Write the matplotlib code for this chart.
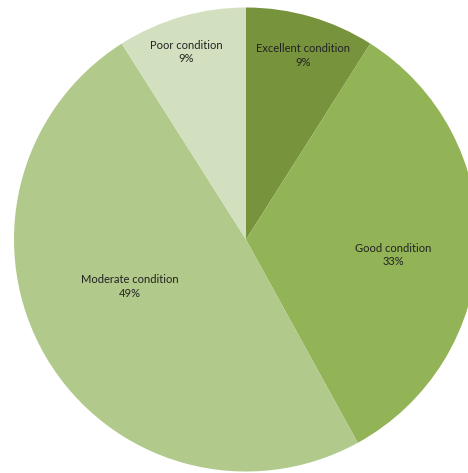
import numpy as np
import matplotlib.pyplot as plt

labels = ['Excellent condition', 'Good condition', 'Moderate condition', 'Poor condition']
shares = [9, 33, 49, 9]
colors = ['#77933C', '#92B356', '#B1C98A', '#D3E0BF']
label_dist = [0.83, 0.64, 0.54, 0.85]
label_shift = [-1, -4.2, -8.6, 1.5]  # degrees off the slice middle

fig = plt.figure(figsize=(4.68, 4.73), dpi=100)
ax = fig.add_axes([0, 0, 1, 1])

wedges, _ = ax.pie(shares, colors=colors, startangle=90, counterclock=False,
                   radius=1.0, wedgeprops=dict(linewidth=0))

# labels sit inside the slices, like the spreadsheet chart
for w, lab, val, d, s in zip(wedges, labels, shares, label_dist, label_shift):
    mid = np.deg2rad((w.theta1 + w.theta2) / 2 + s)
    ax.text(d * np.cos(mid), d * np.sin(mid), f'{lab}\n{val}%',
            ha='center', va='center', fontsize=8, family='Lato',
            color='#222222', linespacing=1.25)

# pie is clipped on the right and bottom edges in the original
cx, cy, r = 246, 239.5, 232
ax.set_aspect('auto')
ax.set_xlim(-cx / r, (468 - cx) / r)
ax.set_ylim((cy - 473) / r, cy / r)
ax.axis('off')

plt.savefig('out.png', dpi=100)
